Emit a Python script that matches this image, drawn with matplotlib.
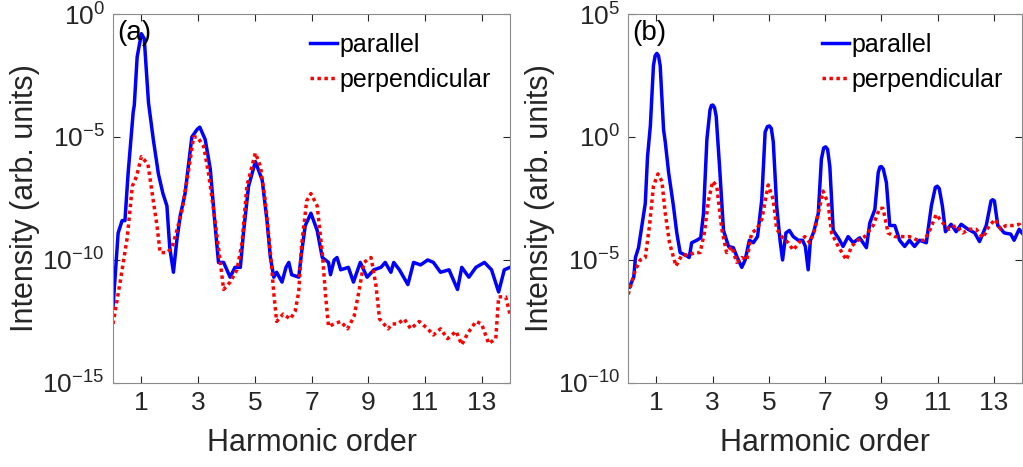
import numpy as np
import matplotlib
matplotlib.use("Agg")
import matplotlib.pyplot as plt

plt.rcParams['font.family'] = ['Liberation Sans', 'DejaVu Sans']
plt.rcParams['mathtext.fontset'] = 'custom'
plt.rcParams['mathtext.rm'] = 'Liberation Sans'

# panel (a): harmonic order and log10(intensity)
a_par_x = [0.0, 0.18, 0.32, 0.42, 0.53, 0.71, 0.75, 0.85, 1.0, 1.1, 1.25, 1.42, 1.6, 1.76, 1.9, 2.0, 2.13,
           2.25, 2.37, 2.54, 2.78, 2.96, 3.06, 3.25, 3.43, 3.6, 3.72, 3.9, 4.13, 4.3, 4.49, 4.6, 4.78,
           5.02, 5.26, 5.43, 5.55, 5.67, 5.77, 5.96, 6.1, 6.2, 6.3, 6.55, 6.65, 6.78, 6.98, 7.2, 7.38,
           7.6, 7.67, 7.8, 7.9, 8.03, 8.3, 8.48, 8.72, 8.96, 9.2, 9.45, 9.6, 9.8, 9.9, 10.1, 10.4, 10.6,
           10.85, 11.1, 11.3, 11.55, 11.85, 12.15, 12.3, 12.55, 12.8, 13.1, 13.35, 13.6, 13.8, 14.0]
a_par_log = [-11.9, -8.9, -8.4, -8.4, -6.5, -4.0, -3.7, -1.75, -0.8, -1.0, -3.6, -5.1, -6.5, -7.3, -7.8,
             -9.5, -10.5, -9.2, -8.2, -7.3, -5.0, -4.7, -4.6, -5.1, -6.3, -8.6, -10.1, -10.1, -10.7,
             -10.3, -10.3, -8.9, -7.0, -6.0, -6.75, -8.4, -9.9, -10.7, -10.5, -10.9, -10.3, -10.1,
             -10.6, -10.7, -9.7, -8.6, -8.1, -8.8, -9.9, -10.1, -10.6, -10.0, -9.9, -10.4, -10.3,
             -10.9, -10.1, -10.7, -10.4, -10.3, -10.1, -10.5, -10.1, -10.4, -11.0, -10.1, -10.2,
             -10.0, -10.1, -10.5, -10.4, -11.2, -10.3, -10.7, -10.3, -10.1, -10.4, -11.3, -10.4, -10.3]

a_perp_x = [0.0, 0.25, 0.5, 0.68, 0.83, 1.0, 1.23, 1.42, 1.55, 1.66, 1.9, 2.08, 2.25, 2.43, 2.66, 2.84,
            2.98, 3.2, 3.37, 3.55, 3.73, 3.9, 4.13, 4.37, 4.55, 4.72, 5.02, 5.2, 5.37, 5.55, 5.67, 5.77,
            6.0, 6.25, 6.42, 6.55, 6.65, 6.83, 6.98, 7.2, 7.38, 7.5, 7.6, 7.8, 8.03, 8.27, 8.5, 8.67,
            8.85, 9.1, 9.27, 9.4, 9.7, 9.85, 10.03, 10.27, 10.5, 10.8, 11.1, 11.3, 11.55, 11.8, 12.1,
            12.3, 12.5, 12.8, 13.0, 13.25, 13.5, 13.6, 13.85, 14.0]
a_perp_log = [-12.6, -10.9, -9.1, -7.0, -6.6, -5.8, -6.1, -7.6, -8.6, -9.7, -9.7, -9.5, -8.8, -8.0,
              -6.4, -5.0, -5.0, -5.4, -6.5, -8.0, -9.6, -11.2, -10.9, -10.4, -9.3, -7.0, -5.65, -6.2,
              -7.6, -9.7, -11.35, -12.5, -12.2, -12.4, -12.1, -11.3, -9.4, -7.6, -7.3, -7.8, -9.7,
              -11.5, -12.7, -12.6, -12.5, -12.8, -12.3, -11.3, -10.1, -9.9, -11.0, -12.4, -12.8,
              -12.6, -12.6, -12.4, -12.8, -12.5, -12.8, -13.05, -12.8, -13.2, -12.9, -13.45, -13.0,
              -12.5, -12.6, -13.4, -13.2, -11.5, -11.5, -12.2]

# panel (b)
b_par_x = [0.05, 0.2, 0.26, 0.37, 0.49, 0.61, 0.69, 0.79, 0.9, 0.96, 1.02, 1.08, 1.14, 1.26, 1.32, 1.44,
           1.61, 1.73, 1.85, 2.03, 2.17, 2.26, 2.44, 2.58, 2.68, 2.8, 2.91, 2.96, 3.01, 3.07, 3.13, 3.25,
           3.39, 3.57, 3.74, 3.86, 4.04, 4.16, 4.31, 4.45, 4.6, 4.75, 4.87, 4.95, 5.02, 5.09, 5.16,
           5.28, 5.4, 5.49, 5.61, 5.73, 5.87, 6.05, 6.2, 6.3, 6.4, 6.48, 6.6, 6.76, 6.87, 6.95, 7.02,
           7.09, 7.17, 7.29, 7.47, 7.64, 7.82, 8.0, 8.23, 8.47, 8.59, 8.77, 8.89, 8.95, 9.0, 9.07,
           9.18, 9.3, 9.48, 9.65, 9.83, 10.0, 10.18, 10.36, 10.6, 10.78, 10.92, 10.99, 11.06, 11.17,
           11.28, 11.48, 11.66, 11.84, 12.08, 12.32, 12.49, 12.73, 12.9, 12.96, 13.02, 13.14, 13.37,
           13.6, 13.72, 13.9, 14.0]
b_par_log = [-6.1, -5.7, -4.9, -4.5, -3.6, -2.7, -0.8, 0.45, 2.9, 3.3, 3.4, 3.3, 2.9, 0.3, -0.2,
             -1.45, -2.8, -3.9, -4.7, -4.8, -4.9, -4.3, -4.2, -4.1, -3.1, -0.1, 1.1, 1.28, 1.3, 1.2,
             0.85, -1.2, -3.8, -4.45, -4.5, -4.85, -5.3, -5.0, -4.2, -4.3, -4.05, -2.55, 0.2, 0.42,
             0.45, 0.35, -0.2, -2.8, -4.2, -5.0, -3.9, -3.8, -4.05, -4.2, -4.2, -4.45, -5.4, -4.2,
             -3.85, -3.1, -0.9, -0.45, -0.4, -0.5, -1.2, -3.8, -4.1, -4.45, -4.05, -4.3, -4.1, -4.5,
             -3.5, -2.95, -1.45, -1.22, -1.2, -1.3, -1.85, -3.6, -3.6, -4.2, -4.45, -4.2, -4.45,
             -4.2, -4.3, -2.8, -2.05, -2.0, -2.1, -2.8, -3.85, -3.55, -3.85, -3.55, -3.75, -3.9,
             -4.25, -3.6, -2.6, -2.55, -2.6, -3.6, -3.9, -3.95, -4.2, -3.75, -3.9]

b_perp_x = [0.0, 0.26, 0.43, 0.61, 0.76, 0.9, 1.06, 1.2, 1.32, 1.47, 1.7, 1.91, 2.15, 2.38, 2.56, 2.71,
            2.86, 3.01, 3.15, 3.33, 3.5, 3.68, 3.86, 4.04, 4.22, 4.39, 4.57, 4.75, 4.98, 5.16, 5.28,
            5.46, 5.69, 5.87, 6.11, 6.28, 6.46, 6.64, 6.76, 6.93, 7.11, 7.23, 7.47, 7.76, 7.94, 8.17,
            8.41, 8.71, 8.94, 9.06, 9.24, 9.48, 9.71, 10.0, 10.3, 10.54, 10.74, 10.95, 11.19, 11.42,
            11.66, 11.9, 12.13, 12.37, 12.61, 12.84, 13.05, 13.25, 13.43, 13.67, 13.9, 14.0]
b_perp_log = [-6.4, -5.4, -5.0, -4.9, -3.6, -2.0, -1.5, -1.8, -3.1, -4.3, -5.25, -4.8, -4.8, -4.7,
              -4.7, -3.9, -2.55, -1.8, -2.0, -3.75, -4.7, -4.45, -5.1, -4.9, -5.0, -3.9, -3.75,
              -3.35, -1.95, -2.55, -3.75, -4.05, -4.3, -4.6, -4.25, -4.05, -4.3, -3.75, -3.1, -2.2,
              -2.7, -3.9, -4.45, -5.0, -4.45, -4.2, -4.05, -3.6, -2.9, -2.9, -3.9, -4.05, -4.05,
              -4.05, -4.2, -4.2, -3.75, -3.15, -3.5, -3.75, -3.6, -3.9, -3.75, -3.75, -4.1, -3.6,
              -3.35, -3.75, -3.6, -3.6, -3.55, -3.7]

x_ticks = [1, 3, 5, 7, 9, 11, 13]
a_yticks = [1e-15, 1e-10, 1e-5, 1e0]
b_yticks = [1e-10, 1e-5, 1e0, 1e5]

fig = plt.figure(figsize=(10.23, 4.67), dpi=100)
ax1 = fig.add_axes([0.1105, 0.18, 0.388, 0.79])
ax2 = fig.add_axes([0.614, 0.18, 0.385, 0.79])

panels = [
    (ax1, a_par_x, a_par_log, a_perp_x, a_perp_log, a_yticks, '(a)'),
    (ax2, b_par_x, b_par_log, b_perp_x, b_perp_log, b_yticks, '(b)'),
]

for ax, px, py, qx, qy, yt, tag in panels:
    ax.semilogy(px, 10.0 ** np.array(py), color='#0000ff', linewidth=2.5, label='parallel')
    ax.semilogy(qx, 10.0 ** np.array(qy), color='#ff0000', linewidth=2.5,
                linestyle=(0, (1, 1)), label='perpendicular')
    ax.set_xlim(0, 14)
    ax.set_ylim(yt[0], yt[-1])
    ax.set_xticks(x_ticks)
    ax.set_yticks(yt)
    ax.minorticks_off()
    ax.tick_params(direction='in', top=True, right=True, length=5, width=0.8,
                   labelsize=19, colors='0.15', pad=6)
    for s in ax.spines.values():
        s.set_color('0.55')
    ax.set_xlabel('Harmonic order', fontsize=22, color='0.15', labelpad=9)
    ax.set_ylabel('Intensity (arb. units)', fontsize=22, color='0.15', labelpad=2)
    ax.text(0.01, 0.985, tag, transform=ax.transAxes, fontsize=20, va='top', ha='left')
    ax.legend(loc='upper right', frameon=False, fontsize=18, handlelength=1.1,
              handletextpad=0.1, labelspacing=0.45, borderaxespad=0.35)

fig.savefig('out.png', dpi=100)
